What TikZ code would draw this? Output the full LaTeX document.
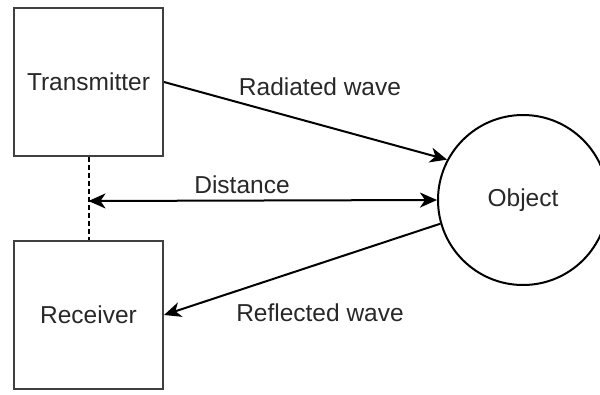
\documentclass[tikz,border=0pt]{standalone}
\usepackage{fontspec}
\setmainfont{Liberation Sans}
\usetikzlibrary{arrows.meta}

\definecolor{boxline}{RGB}{64,64,64}
\definecolor{inkgray}{RGB}{40,40,40}

\begin{document}
\begin{tikzpicture}[x=1pt, y=-1pt, font=\fontsize{24.5}{29}\selectfont,
    unitbox/.style={draw=boxline, line width=2pt, inner sep=0pt,
                    minimum width=149pt, minimum height=148pt, text=inkgray},
    target/.style={circle, draw, line width=2pt, inner sep=0pt,
                   minimum size=170pt, text=inkgray},
    wavelabel/.style={inner sep=0pt, text=inkgray},
    wave/.style={-{Stealth[length=17pt, width=15pt, inset=5pt]}, line width=2pt},
    ]
\useasboundingbox (0,0) rectangle (600,394);

% radar units and the target
\node[unitbox] (tx) at (88.5,82) {Transmitter};
\node[unitbox] (rx) at (88.5,315) {Receiver};
\node[target] (obj) at (523,200) {Object};

% link between the two units
\draw[dashed, dash pattern=on 5pt off 3pt, line width=2pt] (tx.south) -- (rx.south |- rx.north);
\coordinate (mid) at (88.5,201);

% waves and distance
\draw[wave] (tx.east) -- (obj.152);
\draw[wave, {Stealth[length=17pt, width=15pt, inset=5pt]}-{Stealth[length=17pt, width=15pt, inset=5pt]}]
  (mid) -- (obj.west);
\draw[wave] (obj.196) -- (rx.east);

\node[wavelabel] (radlbl) at (320,87) {Radiated wave};
\node[wavelabel] (dislbl) at (242,185) {Distance};
\node[wavelabel] (reflbl) at (320,313) {Reflected wave};
\end{tikzpicture}
\end{document}
